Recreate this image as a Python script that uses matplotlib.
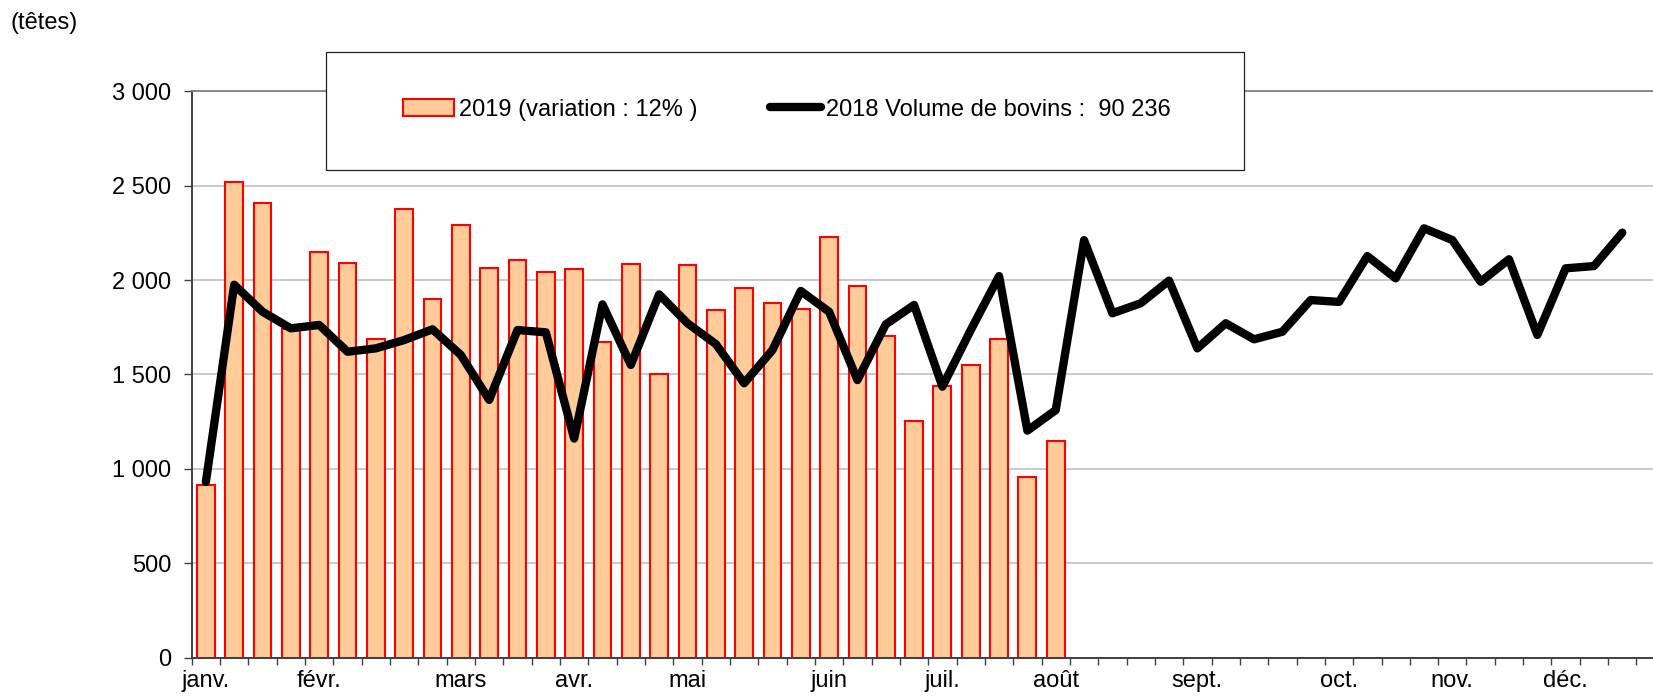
import matplotlib
matplotlib.use("Agg")
import matplotlib.pyplot as plt
import numpy as np
from matplotlib.patches import Rectangle

plt.rcParams['font.family'] = ['Liberation Sans', 'DejaVu Sans']
plt.rcParams['font.size'] = 17

# weekly volumes (heads)
vol_2019 = [915, 2521, 2407, 1738, 2150, 2089, 1686, 2375, 1898, 2292, 2062,
            2108, 2041, 2060, 1672, 2083, 1500, 2080, 1840, 1958, 1880, 1847,
            2228, 1968, 1703, 1255, 1440, 1548, 1688, 955, 1146]
vol_2018 = [930, 1975, 1832, 1744, 1762, 1620, 1638, 1682, 1739, 1603, 1365,
            1735, 1723, 1160, 1871, 1550, 1924, 1771, 1661, 1453, 1629, 1942,
            1832, 1470, 1765, 1868, 1435, 1735, 2021, 1202, 1311, 2211, 1824,
            1877, 1997, 1638, 1771, 1686, 1726, 1894, 1884, 2127, 2009, 2274,
            2212, 1991, 2110, 1709, 2062, 2074, 2251]
n_weeks = 52
month_weeks = [0, 4, 9, 13, 17, 22, 26, 30, 35, 40, 44, 48]
month_labels = ['janv.', 'févr.', 'mars', 'avr.', 'mai', 'juin', 'juil.',
                'août', 'sept.', 'oct.', 'nov.', 'déc.']
label_2019 = '2019 (variation : 12% )'
label_2018 = '2018 Volume de bovins :  90 236'

W, H = 1653, 699
fig = plt.figure(figsize=(W / 100, H / 100), dpi=100)
# plot area runs past the right edge, like the cropped original
ax = fig.add_axes([191.7 / W, (H - 657.5) / H, (1664.8 - 191.7) / W, (657.5 - 91.3) / H])

x19 = np.arange(len(vol_2019))
x18 = np.arange(len(vol_2018))
bars = ax.bar(x19, vol_2019, width=0.63, color='#FFCC99', edgecolor='#FF0000',
              linewidth=1.5, zorder=2, label=label_2019)
line, = ax.plot(x18, vol_2018, color='black', linewidth=6, solid_joinstyle='round',
                solid_capstyle='round', zorder=3, label=label_2018)

ax.set_xlim(-0.5, n_weeks - 0.5)
ax.set_ylim(0, 3000)
ax.set_yticks(np.arange(0, 3001, 500))
ax.set_yticklabels([f"{v:,}".replace(',', ' ') for v in range(0, 3001, 500)])
ax.yaxis.grid(True, color='#C0C0C0', linewidth=1.2)
ax.set_axisbelow(True)

# tick marks at week boundaries, month names under the weeks
ax.set_xticks(np.arange(n_weeks + 1) - 0.5)
ax.set_xticklabels([])
ax.set_xticks(month_weeks, minor=True)
ax.set_xticklabels(month_labels, minor=True)
ax.tick_params(axis='x', which='major', direction='out', length=5, width=1, color='#404040')
ax.tick_params(axis='x', which='minor', length=0, pad=9)
ax.tick_params(axis='y', direction='out', length=5.5, width=1, color='#404040', pad=9)

for s in ['left', 'bottom']:
    ax.spines[s].set_color('#404040')
    ax.spines[s].set_linewidth(1.4)
ax.spines['top'].set_color('#808080')
ax.spines['top'].set_linewidth(1.3)
ax.spines['right'].set_visible(False)

fig.text(10.5 / W, (H - 23.5) / H, '(têtes)', ha='left', va='center', fontsize=17)

# legend box
fig.patches.append(Rectangle((326 / W, (H - 170) / H), (1244 - 326) / W, (170 - 51.7) / H,
                             transform=fig.transFigure, facecolor='white',
                             edgecolor='#202020', linewidth=0.9, zorder=4))
fig.legend([bars, line], [label_2019, label_2018], loc='center',
           bbox_to_anchor=(787 / W, (H - 109.6) / H),
           ncol=2, frameon=False, handlelength=2.15, handletextpad=0.2,
           columnspacing=3.1, fontsize=17).set_zorder(5)

fig.savefig('out.png', dpi=100)
